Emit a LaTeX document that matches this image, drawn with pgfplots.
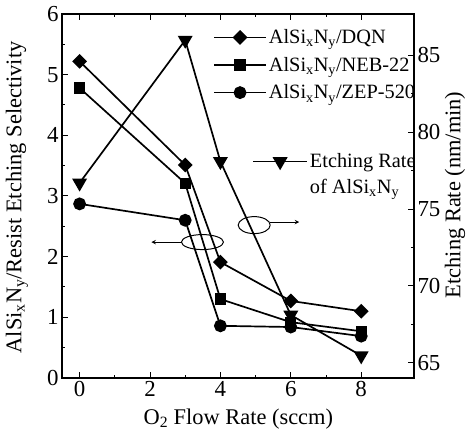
\documentclass[border=0pt]{standalone}
\usepackage{pgfplots}
\pgfplotsset{compat=1.18}
\usepackage{fontspec}
\setmainfont{Liberation Serif}
\begin{document}
\begin{tikzpicture}
\pgfplotsset{
  every axis/.append style={
    scale only axis, width=352bp, height=364bp,
    xmin=-0.5, xmax=9.5,
    tick label style={font=\fontsize{23}{25}\selectfont},
    label style={font=\fontsize{22.5}{24}\selectfont},
    /pgf/number format/assume math mode=true,
    major tick length=6bp, minor tick length=3bp,
    tick style={line width=1pt, black},
    axis line style={line width=1.2pt},
    tick align=inside,
  },
  myline/.style={black, line width=1.7pt},
}
\begin{axis}[
  name=ax,
  ymin=0, ymax=6,
  ytick={0,...,6}, minor y tick num=1,
  xtick={0,2,4,6,8}, minor x tick num=1,
  ytick pos=left,
  xlabel={O\textsubscript{2} Flow Rate (sccm)},
  xlabel style={at={(axis description cs:0.501,-0.113)}, anchor=center},
  ylabel={AlSi\textsubscript{x}N\textsubscript{y}/Resist Etching Selectivity},
  ylabel style={at={(axis description cs:-0.128,0.496)}, anchor=center},
  legend style={at={(0.429,0.963)}, anchor=north west, draw=none, fill=none,
    font=\fontsize{20.4}{22}\selectfont, row sep=8bp, inner sep=0pt},
  legend cell align=left,
  legend image code/.code={\draw[mark repeat=2,mark phase=2,#1] plot coordinates {(0bp,0bp)(26bp,0bp)(52bp,0bp)};},
]
\addplot[myline, mark=square*, mark options={rotate=45, mark size=4.4}] coordinates {(0,5.22)(3,3.51)(4,1.91)(6,1.27)(8,1.10)};
\addlegendentry{AlSi\textsubscript{x}N\textsubscript{y}/DQN}
\addplot[myline, mark=square*, mark options={mark size=4.8}] coordinates {(0,4.78)(3,3.21)(4,1.30)(6,0.92)(8,0.77)};
\addlegendentry{AlSi\textsubscript{x}N\textsubscript{y}/NEB-22}
\addplot[myline, mark=*, mark options={mark size=5.6}] coordinates {(0,2.87)(3,2.60)(4,0.86)(6,0.84)(8,0.69)};
\addlegendentry{AlSi\textsubscript{x}N\textsubscript{y}/ZEP-520}
\draw[line width=1pt] (axis cs:3.49,2.24) ellipse [x radius=21bp, y radius=7.5bp];
\draw[line width=1pt, -stealth] (axis cs:2.92,2.24) -- (axis cs:2.04,2.24);
\draw[line width=1pt] (axis cs:4.96,2.52) ellipse [x radius=16bp, y radius=8.5bp];
\draw[line width=1pt, -stealth] (axis cs:5.42,2.57) -- (axis cs:6.24,2.57);
\end{axis}
\begin{axis}[
  ymin=64, ymax=87.7,
  ytick={65,70,...,85}, minor y tick num=1,
  axis y line*=right, axis x line=none,
  ylabel={Etching Rate (nm/min)},
  ylabel style={at={(axis description cs:1.1165,0.503)}, anchor=center},
  legend style={at={(0.54,0.622)}, anchor=north west, draw=none, fill=none,
    font=\fontsize{20.4}{22}\selectfont, row sep=6bp, inner sep=0pt},
  legend cell align=left,
  legend image code/.code={\draw[mark repeat=2,mark phase=2,#1] plot coordinates {(0bp,0bp)(27bp,0bp)(54bp,0bp)};},
]
\addplot[myline, mark=triangle*, mark options={rotate=180, mark size=7}] coordinates {(0,76.7)(3,86.0)(4,78.1)(6,68.1)(8,65.45)};
\addlegendentry{Etching Rate}
\addlegendimage{empty legend}
\addlegendentry{of AlSi\textsubscript{x}N\textsubscript{y}}
\end{axis}
\pgfresetboundingbox
\useasboundingbox ([shift={(-62bp,-57bp)}]ax.south west) rectangle ([shift={(55bp,14bp)}]ax.north east);
\end{tikzpicture}
\end{document}
